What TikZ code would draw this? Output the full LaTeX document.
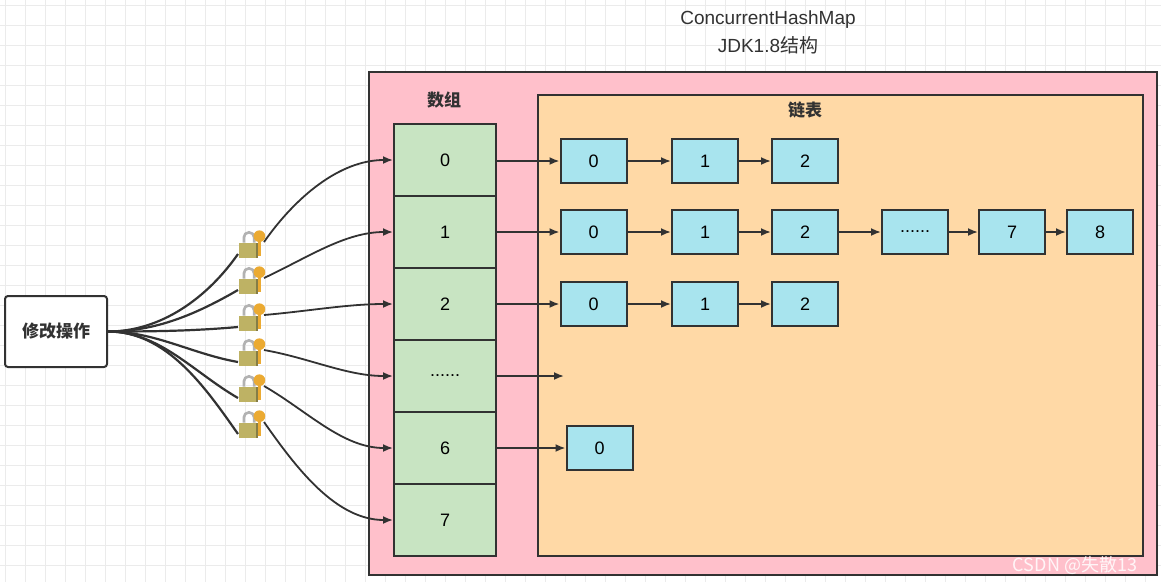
\documentclass[tikz,border=0pt]{standalone}
\usepackage{fontspec}
\setmainfont{Liberation Sans}
\newfontfamily\cjk{Noto Sans CJK SC}
\definecolor{pinkc}{RGB}{255,192,203}
\definecolor{orangec}{RGB}{255,217,166}
\definecolor{greenc}{RGB}{200,228,194}
\definecolor{bluec}{RGB}{168,228,238}
\definecolor{edgec}{RGB}{50,50,50}
\definecolor{lockbody}{RGB}{190,178,100}
\definecolor{keyc}{RGB}{235,170,50}
\tikzset{
  cell/.style={draw=edgec,line width=2pt,fill=greenc,minimum width=102pt,minimum height=72pt,inner sep=0,font=\fontsize{18}{20}\selectfont},
  box/.style={draw=edgec,line width=2pt,fill=bluec,minimum width=66pt,minimum height=44pt,inner sep=0,font=\fontsize{18}{20}\selectfont},
  arr/.style={-{Latex[length=10pt,width=8pt]},line width=1.8pt,edgec},
  wire/.style={line width=2.2pt,edgec},
  lock/.pic={
    \begin{scope}[scale=1.3]
    \draw[gray!60,line width=2.6pt] (-4,-1) -- (-4,-5) arc(180:360:4) -- (4,-1);
    \fill[lockbody] (-8,-1) rectangle (7,11);
    \fill[lockbody!70!black] (5,-1) rectangle (7,11);
    \fill[keyc] (8,-6) circle(4.5);
    \fill[keyc] (7,-4) rectangle (9.5,9);
    \end{scope}
  }
}
\usetikzlibrary{arrows.meta}
\begin{document}
\begin{tikzpicture}[x=1pt,y=-1pt]
\useasboundingbox (0,0) rectangle (1161,582);
\fill[white] (0,0) rectangle (1161,582);
\foreach \i in {0,...,58} {\draw[black!8,line width=0.8pt] (\i*20+5,0) -- (\i*20+5,582);}
\foreach \i in {0,...,29} {\draw[black!8,line width=0.8pt] (0,\i*20+5) -- (1161,\i*20+5);}
% title
\node[font=\fontsize{19}{22}\selectfont,text=edgec] (t1) at (768,20) {ConcurrentHashMap};
\node[font=\fontsize{19}{22}\selectfont,text=edgec] (t2) at (768,45) {JDK1.8{\cjk 结构}};
% containers
\node[draw=edgec,line width=2pt,fill=pinkc,minimum width=788pt,minimum height=503pt,inner sep=0] (outer) at (763,323.5) {};
\node[font=\cjk\fontsize{17}{20}\selectfont\bfseries,text=edgec] (arrl) at (444,100) {数组};
\node[draw=edgec,line width=2pt,fill=orangec,minimum width=605pt,minimum height=461pt,inner sep=0] (inner) at (840.5,325.5) {};
\node[font=\cjk\fontsize{17}{20}\selectfont\bfseries,text=edgec] (lstl) at (805,110) {链表};
% array cells
\node[cell] (c0) at (445,160) {0};
\node[cell] (c1) at (445,232) {1};
\node[cell] (c2) at (445,304) {2};
\node[cell] (c3) at (445,376) {......};
\node[cell] (c6) at (445,448) {6};
\node[cell] (c7) at (445,520) {7};
% boxes
\node[box] (a0) at (593.5,161) {0};
\node[box] (a1) at (705,161) {1};
\node[box] (a2) at (805,161) {2};
\node[box] (b0) at (593.5,232) {0};
\node[box] (b1) at (705,232) {1};
\node[box] (b2) at (805,232) {2};
\node[box] (b3) at (915,232) {......};
\node[box] (b7) at (1012,232) {7};
\node[box] (b8) at (1100,232) {8};
\node[box] (d0) at (593.5,304) {0};
\node[box] (d1) at (705,304) {1};
\node[box] (d2) at (805,304) {2};
\node[box] (e0) at (599.5,448) {0};
\coordinate (dots) at (564,376);
\draw[arr] (c0.east|-a0) -- (a0);
\draw[arr] (a0) -- (a1); \draw[arr] (a1) -- (a2);
\draw[arr] (c1) -- (b0);
\draw[arr] (b0) -- (b1); \draw[arr] (b1) -- (b2); \draw[arr] (b2) -- (b3); \draw[arr] (b3) -- (b7); \draw[arr] (b7) -- (b8);
\draw[arr] (c2) -- (d0);
\draw[arr] (d0) -- (d1); \draw[arr] (d1) -- (d2);
\draw[arr] (c3) -- (dots);
\draw[arr] (c6) -- (e0);
% left node
\node[draw=edgec,line width=2pt,fill=white,rounded corners=3pt,minimum width=102pt,minimum height=71pt,font=\cjk\fontsize{17}{20}\selectfont\bfseries,text=edgec] (op) at (56,331.5) {修改操作};
% locks and wires
\foreach \k/\y/\c/\ia/\oa in {1/244/c0/-125/55, 2/280/c1/-150/25, 3/317/c2/-175/5, 4/352/c3/170/-10, 5/388/c6/150/-30, 6/424/c7/125/-55} {
  \coordinate (p\k) at (238,\y+10);
  \coordinate (q\k) at (264,\y-2);
  \draw[wire] (op.east) to[out=0,in=\ia,looseness=0.9] (p\k);
  \draw[wire,arr] (q\k) to[out=\oa,in=180,looseness=0.9] (\c.west);
  \pic at (249,\y) {lock};
}
\node[font=\cjk\fontsize{18}{20}\selectfont,text=white,opacity=0.85] (wm) at (1075,565) {CSDN @失散13};
\end{tikzpicture}
\end{document}
